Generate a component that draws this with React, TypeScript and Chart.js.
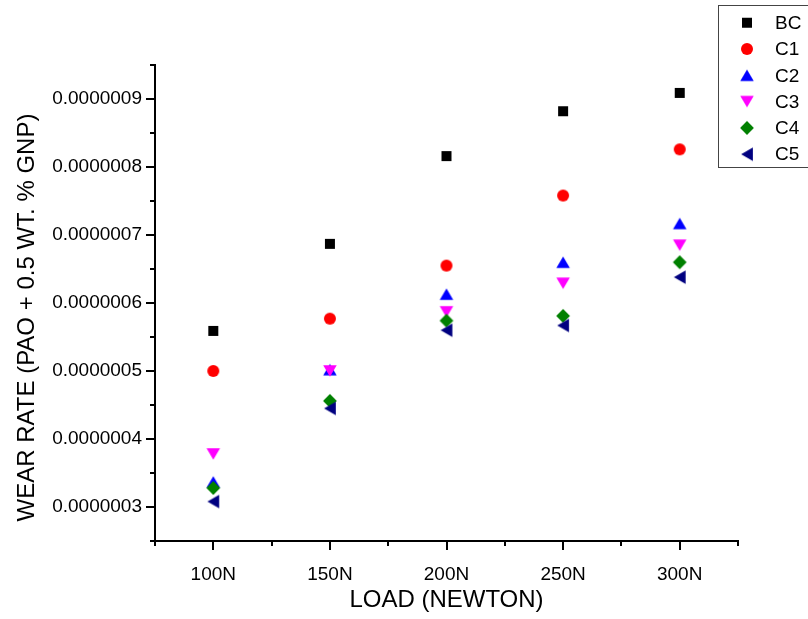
import React, { useEffect, useRef } from 'react';
import { Chart, registerables } from 'chart.js';

Chart.register(...registerables);

// ---- data ----
const categories = ['100N', '150N', '200N', '250N', '300N'];
const seriesNames = ['BC', 'C1', 'C2', 'C3', 'C4', 'C5'];
const bcValues = [5.59e-7, 6.87e-7, 8.16e-7, 8.82e-7, 9.09e-7];
const c1Values = [5.0e-7, 5.77e-7, 6.55e-7, 7.58e-7, 8.26e-7];
const c2Values = [3.37e-7, 5.02e-7, 6.13e-7, 6.6e-7, 7.17e-7];
const c3Values = [3.78e-7, 5.0e-7, 5.87e-7, 6.29e-7, 6.85e-7];
const c4Values = [3.28e-7, 4.56e-7, 5.74e-7, 5.81e-7, 6.6e-7];
const c5Values = [3.08e-7, 4.45e-7, 5.6e-7, 5.67e-7, 6.38e-7];
const yTickValues = [3e-7, 4e-7, 5e-7, 6e-7, 7e-7, 8e-7, 9e-7];
const yMin = 2.5e-7;
const yMax = 9.5e-7;
const xTitle = 'LOAD (NEWTON)';
const yTitle = 'WEAR RATE (PAO + 0.5 WT. % GNP)';

const seriesValues = [bcValues, c1Values, c2Values, c3Values, c4Values, c5Values];
const seriesColors = ['#000000', '#FF0000', '#0000FF', '#FF00FF', '#008000', '#000080'];
const seriesShapes = ['square', 'circle', 'up', 'down', 'diamond', 'left'];

const FONT = "'Liberation Sans', Arial, sans-serif";

function makeMarker(shape: string, color: string): HTMLCanvasElement {
  const c = document.createElement('canvas');
  c.width = 16;
  c.height = 16;
  const g = c.getContext('2d')!;
  g.fillStyle = color;
  const cx = 8, cy = 8;
  const hs = 6.75; // half side of triangle
  const hh = 5.85; // half height of triangle
  g.beginPath();
  if (shape === 'square') {
    g.rect(3, 3, 10, 10);
  } else if (shape === 'circle') {
    g.arc(cx, cy, 6, 0, Math.PI * 2);
  } else if (shape === 'up') {
    g.moveTo(cx, cy - hh);
    g.lineTo(cx + hs, cy + hh);
    g.lineTo(cx - hs, cy + hh);
  } else if (shape === 'down') {
    g.moveTo(cx, cy + hh);
    g.lineTo(cx + hs, cy - hh);
    g.lineTo(cx - hs, cy - hh);
  } else if (shape === 'diamond') {
    g.moveTo(cx, cy - 6.9);
    g.lineTo(cx + 6.9, cy);
    g.lineTo(cx, cy + 6.9);
    g.lineTo(cx - 6.9, cy);
  } else if (shape === 'left') {
    g.moveTo(cx - hh, cy);
    g.lineTo(cx + hh, cy - hs);
    g.lineTo(cx + hh, cy + hs);
  }
  g.closePath();
  g.fill();
  return c;
}

export default function App() {
  const ref = useRef<HTMLCanvasElement | null>(null);

  useEffect(() => {
    if (!ref.current) return;
    const markers = seriesShapes.map((s, i) => makeMarker(s, seriesColors[i]));

    const decor = {
      id: 'decor',
      afterDraw(chart: any) {
        const ctx = chart.ctx as CanvasRenderingContext2D;
        const { left, right, bottom } = chart.chartArea;
        const xs = chart.scales.x;
        const ys = chart.scales.y;
        ctx.save();
        ctx.strokeStyle = '#000';
        ctx.lineWidth = 2;
        // minor y ticks
        const yMinor = [yMin, ...yTickValues.map((v) => v + 0.5e-7)];
        yMinor.forEach((v) => {
          const y = Math.round(ys.getPixelForValue(v));
          ctx.beginPath();
          ctx.moveTo(left, y);
          ctx.lineTo(left - 5, y);
          ctx.stroke();
        });
        // minor x ticks
        const n = categories.length;
        for (let i = 0; i <= n; i++) {
          let x;
          if (i === 0) x = left;
          else if (i === n) x = right;
          else x = (xs.getPixelForValue(i - 1) + xs.getPixelForValue(i)) / 2;
          x = Math.round(x);
          ctx.beginPath();
          ctx.moveTo(x, bottom);
          ctx.lineTo(x, bottom + 5);
          ctx.stroke();
        }
        // titles
        ctx.fillStyle = '#000';
        ctx.font = `24px ${FONT}`;
        ctx.textAlign = 'center';
        ctx.textBaseline = 'alphabetic';
        ctx.fillText(xTitle, (left + right) / 2, 607);
        ctx.save();
        ctx.translate(33.6, 317.5);
        ctx.rotate(-Math.PI / 2);
        ctx.fillText(yTitle, 0, 0);
        ctx.restore();
        // legend
        ctx.lineWidth = 1;
        ctx.strokeStyle = '#444';
        ctx.strokeRect(718.5, 5.5, 100, 162);
        ctx.font = `19px ${FONT}`;
        ctx.textAlign = 'left';
        ctx.textBaseline = 'middle';
        seriesNames.forEach((name, i) => {
          const y = 22.7 + i * 26.3;
          const m = markers[i];
          ctx.drawImage(m, 747 - m.width / 2, y - m.height / 2);
          ctx.fillStyle = '#000';
          ctx.fillText(name, 775, y + 1);
        });
        ctx.restore();
      },
    };

    const chart = new Chart(ref.current, {
      type: 'line',
      data: {
        labels: categories,
        datasets: seriesValues.map((vals, i) => ({
          label: seriesNames[i],
          data: vals,
          showLine: false,
          pointStyle: markers[i] as any,
          pointRadius: 7,
          pointHoverRadius: 7,
          borderWidth: 0,
          backgroundColor: seriesColors[i],
          borderColor: seriesColors[i],
          order: seriesNames.length - 1 - i,
        })),
      },
      options: {
        responsive: false,
        animation: false,
        devicePixelRatio: 1,
        layout: { padding: { left: 0, right: 70, top: 65, bottom: 0 } },
        plugins: {
          legend: { display: false },
          tooltip: { enabled: false },
        },
        scales: {
          x: {
            type: 'category',
            offset: true,
            grid: {
              display: true,
              drawOnChartArea: false,
              drawTicks: true,
              tickLength: 9,
              color: '#000',
              lineWidth: 2,
              offset: false,
            },
            border: { display: true, color: '#000', width: 2 },
            ticks: {
              color: '#000',
              font: { family: FONT, size: 19 },
              padding: 13,
              maxRotation: 0,
              autoSkip: false,
            },
            afterFit: (s: any) => {
              s.height = 78;
            },
          },
          y: {
            type: 'linear',
            min: yMin,
            max: yMax,
            grid: {
              display: true,
              drawOnChartArea: false,
              drawTicks: true,
              tickLength: 9,
              color: '#000',
              lineWidth: 2,
            },
            border: { display: true, color: '#000', width: 2 },
            ticks: {
              color: '#000',
              font: { family: FONT, size: 19 },
              padding: 4,
              callback: (v: any) => Number(v).toFixed(7),
            },
            afterBuildTicks: (s: any) => {
              s.ticks = yTickValues.map((v) => ({ value: v }));
            },
            afterFit: (s: any) => {
              s.width = 155;
            },
          },
        },
      },
      plugins: [decor],
    });
    return () => chart.destroy();
  }, []);

  return (
    <div style={{ position: 'absolute', left: 0, top: 0, width: 808, height: 619, background: '#fff' }}>
      <canvas ref={ref} width={808} height={619} style={{ display: 'block' }} />
    </div>
  );
}
